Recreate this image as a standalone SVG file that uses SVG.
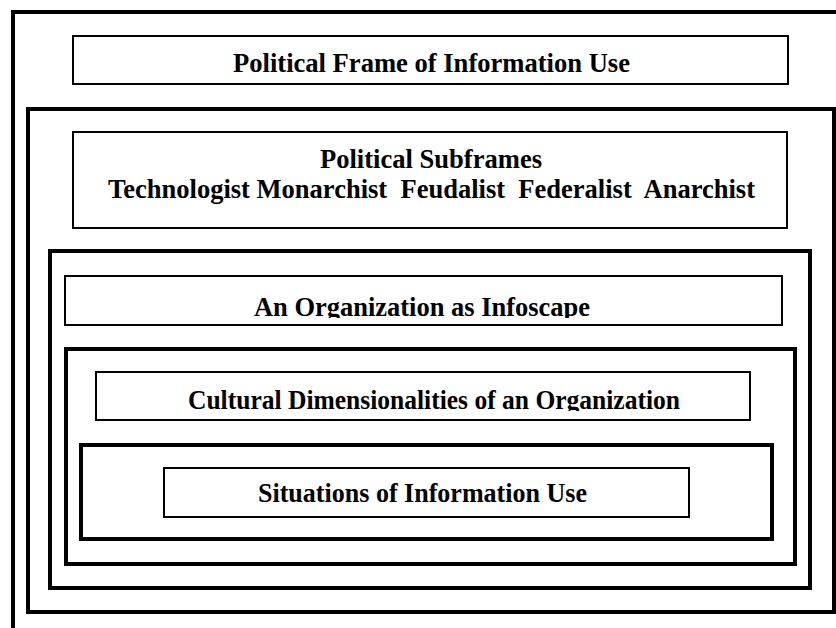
<svg xmlns="http://www.w3.org/2000/svg" width="836" height="628" viewBox="0 0 836 628">
  <style>
    .frame { fill: none; stroke: #000; stroke-width: 4; }
    .box { fill: #fff; stroke: #000; stroke-width: 2; }
    .label { font-family: "Liberation Serif", "Times New Roman", serif; font-weight: bold; font-size: 27px; fill: #000; }
  </style>
  <defs>
    <!-- titles whose descenders are cut off just below the baseline -->
    <clipPath id="clip-infoscape"><rect x="65" y="276" width="717" height="42"/></clipPath>
    <clipPath id="clip-cultural"><rect x="96" y="372" width="654" height="39"/></clipPath>
  </defs>
  <rect width="836" height="628" fill="#fff"/>

  <!-- nested frames -->
  <g id="frames">
    <rect id="frame-political" class="frame" x="13" y="12" width="900" height="700"/>
    <rect id="frame-subframes" class="frame" x="28" y="109" width="806" height="503"/>
    <rect id="frame-organization" class="frame" x="50" y="251" width="760" height="337"/>
    <rect id="frame-cultural" class="frame" x="66" y="349" width="729" height="215"/>
    <rect id="frame-situations" class="frame" x="81" y="445" width="691" height="94"/>
  </g>

  <g id="node-political-frame">
    <rect class="box" x="73" y="36" width="715" height="48"/>
    <text class="label" x="233" y="72" textLength="397" lengthAdjust="spacingAndGlyphs">Political Frame of Information Use</text>
  </g>

  <g id="node-political-subframes">
    <rect class="box" x="73" y="132" width="714" height="96"/>
    <text class="label" x="320" y="168" textLength="222" lengthAdjust="spacingAndGlyphs">Political Subframes</text>
    <text class="label" x="108" y="198" xml:space="preserve" textLength="647" lengthAdjust="spacingAndGlyphs">Technologist Monarchist  Feudalist  Federalist  Anarchist</text>
  </g>

  <g id="node-infoscape">
    <rect class="box" x="65" y="276" width="717" height="49"/>
    <text class="label" x="254" y="316" textLength="336" lengthAdjust="spacingAndGlyphs" clip-path="url(#clip-infoscape)">An Organization as Infoscape</text>
  </g>

  <g id="node-cultural">
    <rect class="box" x="96" y="372" width="654" height="48"/>
    <text class="label" x="188" y="409" textLength="492" lengthAdjust="spacingAndGlyphs" clip-path="url(#clip-cultural)">Cultural Dimensionalities of an Organization</text>
  </g>

  <g id="node-situations">
    <rect class="box" x="164" y="468" width="525" height="49"/>
    <text class="label" x="258" y="502" textLength="329" lengthAdjust="spacingAndGlyphs">Situations of Information Use</text>
  </g>

  <g id="connectors"/>
</svg>
